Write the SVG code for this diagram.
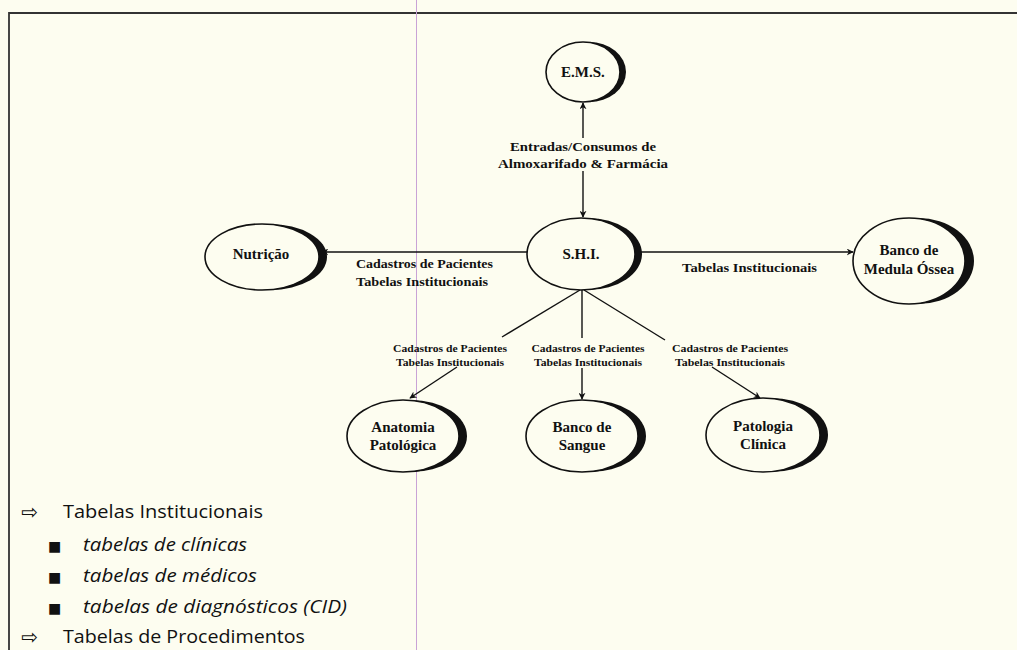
<svg xmlns="http://www.w3.org/2000/svg" width="1017" height="650" viewBox="0 0 1017 650">
  <style>
    .shade { fill: #111; }
    .face { fill: #fdfdf0; stroke: #111; stroke-width: 1.6; }
    .nlabel { font-family: "Liberation Serif", "DejaVu Serif", serif; font-weight: bold; font-size: 15px; fill: #111; text-anchor: middle; }
    .elabel { font-family: "Liberation Serif", "DejaVu Serif", serif; font-weight: bold; font-size: 13px; fill: #111; }
    .slabel { font-family: "Liberation Serif", "DejaVu Serif", serif; font-weight: bold; font-size: 10.5px; fill: #111; text-anchor: middle; }
    .edge { stroke: #111; stroke-width: 1.4; fill: none; }
    .list { font-family: "Open Sans", "Noto Sans", sans-serif; font-size: 18px; fill: #111; }
    .sub { font-style: italic; }
    .sym { font-family: "DejaVu Sans", sans-serif; fill: #111; }
  </style>
  <defs>
    <marker id="head" viewBox="0 0 10 10" refX="9" refY="5" markerWidth="7" markerHeight="7" markerUnits="userSpaceOnUse" orient="auto-start-reverse">
      <path d="M0,0 L10,5 L0,10 L3,5 Z" fill="#111"/>
    </marker>
  </defs>

  <!-- page background and frame -->
  <rect x="0" y="0" width="1017" height="650" fill="#fdfdf0"/>
  <path d="M9,650 L9,13 L1017,13" fill="none" stroke="#333" stroke-width="1.8"/>
  <line x1="416.5" y1="0" x2="416.5" y2="650" stroke="#c9a3d6" stroke-width="1"/>

  <!-- connectors -->
  <g id="connectors">
    <line class="edge" x1="583" y1="138" x2="583" y2="103" marker-end="url(#head)"/>
    <line class="edge" x1="583" y1="171" x2="583" y2="217" marker-end="url(#head)"/>
    <line class="edge" x1="527" y1="252" x2="322" y2="252" marker-end="url(#head)"/>
    <line class="edge" x1="636" y1="252" x2="853" y2="252" marker-end="url(#head)"/>
    <line class="edge" x1="580" y1="290" x2="502" y2="337"/>
    <line class="edge" x1="457" y1="367" x2="410" y2="398" marker-end="url(#head)"/>
    <line class="edge" x1="582" y1="290" x2="582" y2="338"/>
    <line class="edge" x1="582" y1="368" x2="582" y2="399" marker-end="url(#head)"/>
    <line class="edge" x1="584" y1="290" x2="665" y2="340"/>
    <line class="edge" x1="712" y1="367" x2="760" y2="398" marker-end="url(#head)"/>

    <text class="elabel" x="583" y="151" text-anchor="middle" textLength="146" lengthAdjust="spacingAndGlyphs">Entradas/Consumos de</text>
    <text class="elabel" x="583" y="168" text-anchor="middle" textLength="170" lengthAdjust="spacingAndGlyphs">Almoxarifado &amp; Farmácia</text>
    <text class="elabel" x="356" y="268" textLength="137" lengthAdjust="spacingAndGlyphs">Cadastros de Pacientes</text>
    <text class="elabel" x="356" y="286" textLength="132" lengthAdjust="spacingAndGlyphs">Tabelas Institucionais</text>
    <text class="elabel" x="682" y="272" textLength="135" lengthAdjust="spacingAndGlyphs">Tabelas Institucionais</text>

    <text class="slabel" x="450" y="352" textLength="114" lengthAdjust="spacingAndGlyphs">Cadastros de Pacientes</text>
    <text class="slabel" x="450" y="366" textLength="108" lengthAdjust="spacingAndGlyphs">Tabelas Institucionais</text>
    <text class="slabel" x="588" y="352" textLength="113" lengthAdjust="spacingAndGlyphs">Cadastros de Pacientes</text>
    <text class="slabel" x="588" y="366" textLength="108" lengthAdjust="spacingAndGlyphs">Tabelas Institucionais</text>
    <text class="slabel" x="730" y="352" textLength="116" lengthAdjust="spacingAndGlyphs">Cadastros de Pacientes</text>
    <text class="slabel" x="730" y="366" textLength="110" lengthAdjust="spacingAndGlyphs">Tabelas Institucionais</text>
  </g>

  <!-- nodes: dark offset ellipse under a light face gives the crescent shadow -->
  <g id="ems">
    <ellipse class="shade" cx="589" cy="72" rx="37" ry="30"/>
    <ellipse class="face" cx="583" cy="72" rx="37" ry="30"/>
    <text class="nlabel" x="583" y="77">E.M.S.</text>
  </g>
  <g id="shi">
    <ellipse class="shade" cx="588" cy="254" rx="54" ry="36"/>
    <ellipse class="face" cx="581" cy="254" rx="54" ry="36"/>
    <text class="nlabel" x="581" y="259">S.H.I.</text>
  </g>
  <g id="nutricao">
    <ellipse class="shade" cx="270" cy="257" rx="57" ry="33"/>
    <ellipse class="face" cx="262" cy="257" rx="57" ry="33"/>
    <text class="nlabel" x="261" y="259">Nutrição</text>
  </g>
  <g id="medula">
    <ellipse class="shade" cx="918" cy="261" rx="56" ry="43"/>
    <ellipse class="face" cx="909" cy="261" rx="56" ry="43"/>
    <text class="nlabel" x="909" y="255">Banco de</text>
    <text class="nlabel" x="909" y="274">Medula Óssea</text>
  </g>
  <g id="anatomia">
    <ellipse class="shade" cx="411" cy="436" rx="56" ry="36"/>
    <ellipse class="face" cx="403" cy="436" rx="56" ry="36"/>
    <text class="nlabel" x="403" y="432">Anatomia</text>
    <text class="nlabel" x="403" y="450">Patológica</text>
  </g>
  <g id="sangue">
    <ellipse class="shade" cx="590" cy="436" rx="56" ry="36"/>
    <ellipse class="face" cx="582" cy="436" rx="56" ry="36"/>
    <text class="nlabel" x="582" y="432">Banco de</text>
    <text class="nlabel" x="582" y="450">Sangue</text>
  </g>
  <g id="patologia">
    <ellipse class="shade" cx="771" cy="435" rx="57" ry="37"/>
    <ellipse class="face" cx="763" cy="435" rx="57" ry="37"/>
    <text class="nlabel" x="763" y="431">Patologia</text>
    <text class="nlabel" x="763" y="449">Clínica</text>
  </g>

  <!-- legend list -->
  <g id="legend">
    <text class="sym" x="21" y="519" font-size="20">⇨</text>
    <text class="list" x="63" y="518" textLength="200" lengthAdjust="spacingAndGlyphs">Tabelas Institucionais</text>
    <text class="sym" x="48" y="551" font-size="14">■</text>
    <text class="list sub" x="83" y="551" textLength="164" lengthAdjust="spacingAndGlyphs">tabelas de clínicas</text>
    <text class="sym" x="48" y="582" font-size="14">■</text>
    <text class="list sub" x="83" y="582" textLength="174" lengthAdjust="spacingAndGlyphs">tabelas de médicos</text>
    <text class="sym" x="48" y="613" font-size="14">■</text>
    <text class="list sub" x="83" y="613" textLength="264" lengthAdjust="spacingAndGlyphs">tabelas de diagnósticos (CID)</text>
    <text class="sym" x="21" y="644" font-size="20">⇨</text>
    <text class="list" x="63" y="643" textLength="242" lengthAdjust="spacingAndGlyphs">Tabelas de Procedimentos</text>
  </g>
</svg>
